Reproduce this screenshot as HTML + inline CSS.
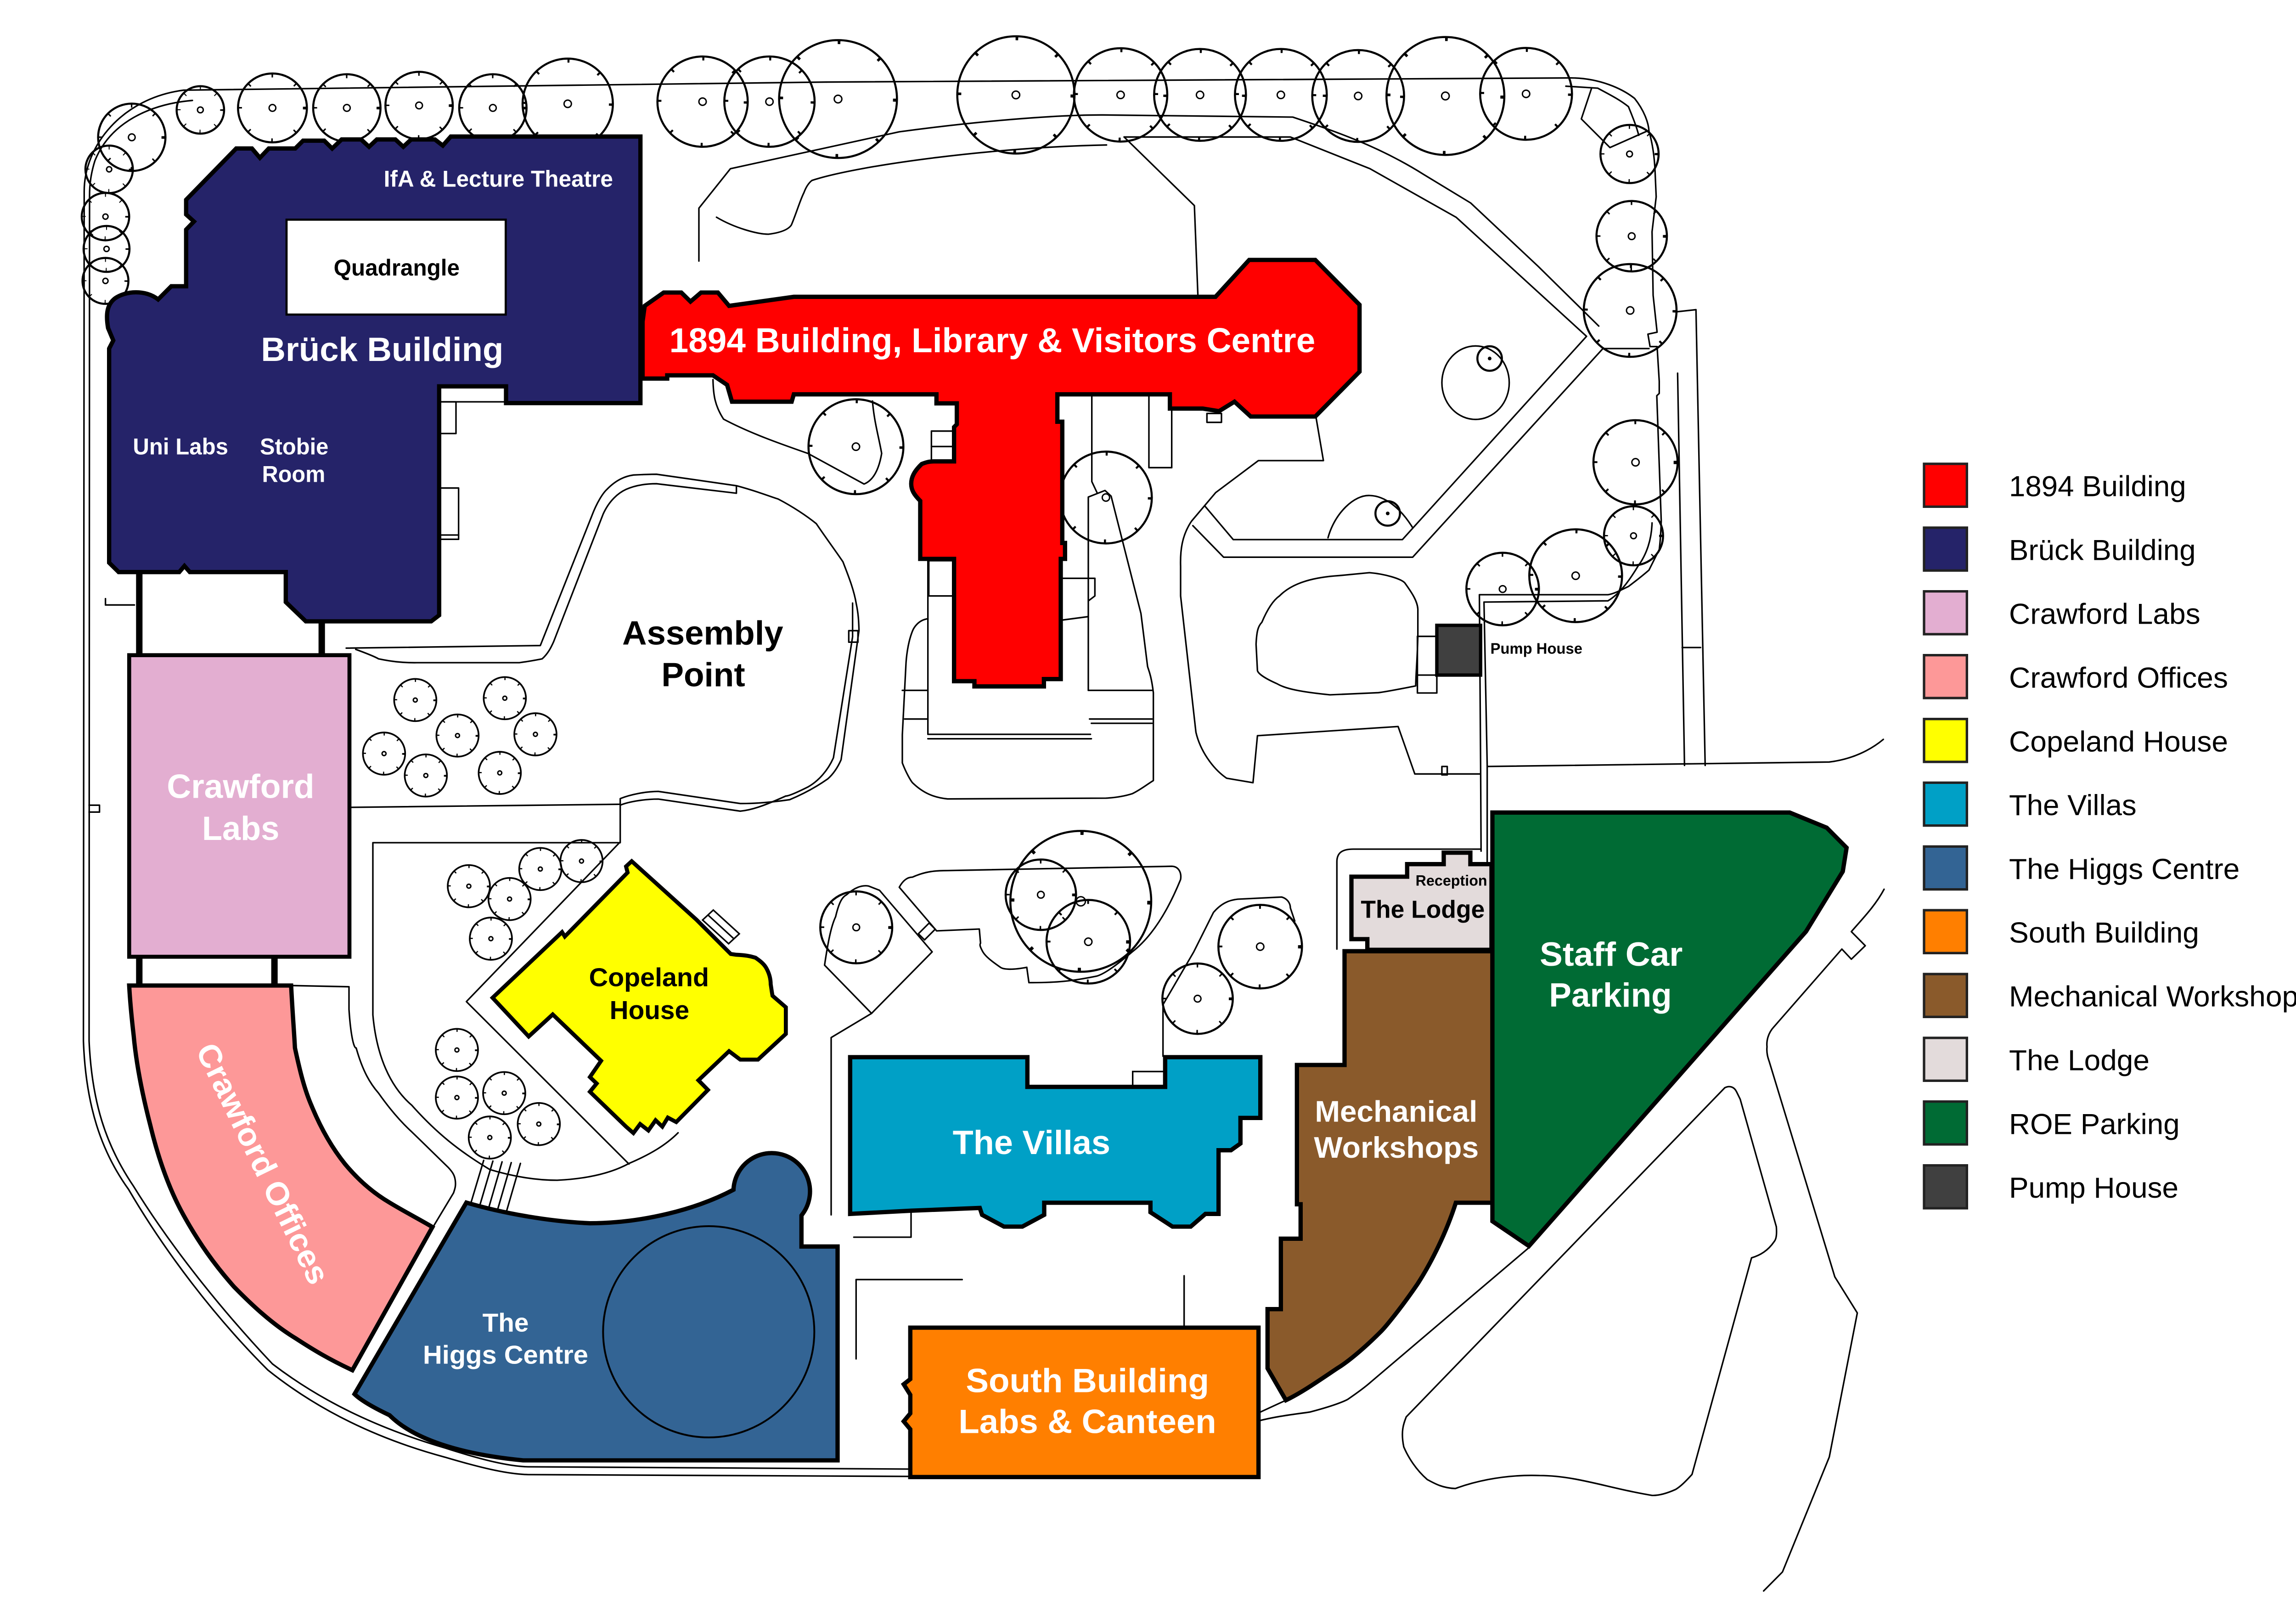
<!DOCTYPE html>
<html><head><meta charset="utf-8">
<style>
html,body{margin:0;padding:0;background:#fff;overflow:hidden}
svg{display:block}
.l{fill:none;stroke:#000;stroke-width:1.0;stroke-linejoin:round;stroke-linecap:round}
.b{stroke:#000;stroke-width:2.8;stroke-linejoin:miter}
.t{fill:none;stroke:#000;stroke-width:1.35}
.tk{fill:none;stroke:#000;stroke-width:2.6;stroke-dasharray:0.6 9.4}
.s{fill:none;stroke:#000;stroke-width:1.1}
.sk{fill:none;stroke:#000;stroke-width:2;stroke-dasharray:0.8 9.2}
.c{fill:#fff;stroke:#000;stroke-width:0.9}
text{font-family:"Liberation Sans",Arial,sans-serif;font-weight:bold}
.w{fill:#fff}
.k{fill:#000}
.lg{font-weight:normal;font-size:19px;fill:#000}
.sq{stroke:#222;stroke-width:1.6}
</style></head>
<body>
<svg xmlns="http://www.w3.org/2000/svg" width="5200" height="3508" viewBox="0 0 1560 1052.4">
<rect x="0" y="0" width="1560" height="1052.4" fill="#fff"/>

<!-- ===== thin lines: roads & paths ===== -->
<g class="l">
<path d="M540,53.6 L120,58.9 C80,64 55,95 55,125 L54.5,680 C56,722 66,752 84,777 C108,818 140,860 175,895 C210,923 250,941 291,952 C318,960 333,963 345,963.3 L597,964.5"/>
<path d="M125.7,65.6 C98,68 72,80 62,105 C59.5,113 58.5,120 58.5,128 L58.2,680 C60,720 69,748 87.3,775 C112,815 145,856 178,891 C212,917 250,934 291,946 C316,954 333,958 345,958.2 L597,959.7"/>
<path d="M58.2,526 L65,526 L65,530.5 L58.2,530.5"/>
<path d="M540,53.6 L1026.4,50.9 C1045,51 1060,58 1067.9,64.3 C1074,72 1077,80 1077.3,85.7 C1080,95 1081,105 1081.3,112.5 L1082,128.6 L1079.3,151.4 L1080,192.9 L1082.6,217 L1076.6,218.3 L1078,226.4 L1082.6,226.4 L1084,249.1 L1084,257 L1082.4,258.5 L1085.3,340.2 C1085,350 1084.5,355 1084,359 C1081,365 1079,369 1077.3,372.4 C1072,377 1068,380 1063.9,383.1 C1058,386 1054,388 1050.5,388.5 L966.5,388.5 L967.3,500 L967.6,556"/>
<path d="M1023,56.3 L1043.8,57.6 C1052,62 1058,65 1063.9,69.7 C1066,75 1069,82 1070.6,88.4"/>
<path d="M1079.3,341.6 C1079,352 1076,362 1070,370 C1064,380 1058,388 1050.5,392.5 L969.5,393.3 L971.6,500 L971.6,564"/>
<path d="M1039.8,57.6 L1033.1,77.7 L1051.8,96.4 L1075.9,85.7"/>
<path d="M1096,243.8 L1100.5,500"/>
<path d="M1096,203.6 L1108,202.3 L1114,500"/>
<path d="M1099,423 L1111,423"/>
<path d="M971.6,500.7 L1195,497.8 C1210,496 1222,490 1230.4,483"/>
<path d="M456.6,170.5 L456.6,136 L477.2,110.2 L587.5,86.1 C640,79 690,75 720.6,75.1 L844.6,76.5 C870,85 900,95 930,113.9 L960.8,132.6 L1005,174.1 L1044.5,213"/>
<path d="M734.4,89.5 L843,89.5 L895,110.2 L951.4,142 L1036.5,219.7 L916.2,352.5 L805.7,352.5 L787,330.4"/>
<path d="M1077.3,227.7 L1047.2,227.7 L922.9,364 L799.4,364 L779.3,343.4"/>
<path d="M468.1,141.9 C480,149 495,153 502,153 C510,152 515,150 517,147 C520,140 523,130 525.2,125.9 C527,121 529,119 530.4,117.9 C560,108 650,96 722.9,94.7"/>
<path d="M734.4,89.5 L780.3,134.3 L782.6,193"/>
<path d="M465.8,248 C466,258 467,265 472.7,273.8 C490,283 510,290 527.8,296.2 L564.5,316.2 C570,314 574,308 576,296.2 C574,285 571,275 570,262"/>
<rect x="608.5" y="281.6" width="14.9" height="19.3"/>
<path d="M608.5,291.7 L623.4,291.7"/>
<rect x="606.8" y="366.3" width="16" height="23"/>
<path d="M606.2,366.3 L606.2,479.7 L712.4,479.7"/>
<path d="M606.2,482.6 L713,482.6"/>
<path d="M606.2,404.2 C600,405 597,410 596.1,412.3 C593,420 592,430 591.8,435.2 L589.5,480 L589.5,498.4 C592,505 595,510 596.1,511.3 C603,518 610,521 619.1,521.9 L722.5,521.4 C730,521 735,520 739.7,518.5 C745,516 750,512 753.5,509.9 L753.5,452.5 C752,440 750,437 749.7,435.2 L745.4,400.8 L725.9,324.1 L721.9,320.4 L711,324.7 L711,451 L752.6,451"/>
<path d="M589.5,451 L606,451 M591,469.7 L606,469.7 M711.8,469.7 L752.6,469.7 M713,472.5 L752.6,472.5"/>
<path d="M713.3,257.8 L713.3,314.6 L716.7,321.8"/>
<rect x="750.6" y="257.8" width="14.9" height="47.7"/>
<path d="M693.7,377.8 L715.3,377.8 L715.3,389.3 L711.5,392.2"/>
<path d="M693.7,405.1 L711,402.8"/>
<rect x="788.5" y="270.1" width="9.5" height="5.8"/>
<path d="M859.7,272.2 L864.6,300.9 L822.1,300.9 L794.2,321.8 L778.4,340.5 C772,350 771,360 771.3,370 L771.3,389.3 L781.3,478.3 C784,490 792,502 801.4,508.4 L818.6,511.3 L821.5,480.6 L913.4,474.6 L924.3,505.6 L967,505.6"/>
<path d="M942,500.7 L945.5,500.7 L945.5,506.2 L942,506.2 Z"/>
<path d="M835.9,389.3 C845,380 860,377 875,376 L894.7,374.1 C905,375 915,378 917.7,380.7 C923,388 926,393 926.3,397.9 L926.3,415.1 C926,430 925,440 924.9,448.1 C915,450 905,452 900.5,452.5 L868.9,453.9 C850,452 840,450 834.4,446.7 C826,443 822,440 821.5,438.1 L820.6,420.9 C821,412 822,409 824.4,406.5 C828,398 832,392 835.9,389.3 Z"/>
<rect x="926" y="415.7" width="12.7" height="37"/>
<path d="M926,441 L938.7,441"/>
<ellipse cx="964" cy="250" rx="22" ry="24"/>
<path d="M867.6,351.3 C872,335 885,323 895,323.7 C905,324 915,332 922.7,344.4"/>
<rect x="286.9" y="252.4" width="43.7" height="10.1"/>
<rect x="286.9" y="262.5" width="11" height="20.7"/>
<rect x="286.9" y="318.8" width="12.7" height="33.5"/>
<path d="M286.9,349.5 L299.6,349.5"/>
<path d="M68.9,391.1 L68.9,395.2 L87.8,395.2"/>
<path d="M226.2,423.4 L353,421.7 L386.6,337.1 C390,328 394,322 396.5,319.7 C403,313 409,311 413.9,310.3 C420,310 425,309.8 428.9,309.8 L481.1,317.3 C495,321 502,324 508.4,326 C518,331 527,337 533.3,342.1 C540,352 546,360 550.7,367 C555,378 558,386 559.4,394.4 C561,402 561,407 561.2,411.8 L549.5,496.3 C547,502 544,506 540.8,508.8 C532,515 524,519 515.9,522.4 C505,524 495,525 483.6,524.9 L430.1,517 C422,517 412,519 405.2,521.7 L405.2,550.5 L243.6,550.5 L243.6,663 C246,690 255,710 269,722 C285,740 300,752 320,764 C340,770 355,771 364,771 C385,770 400,766 411,760 C425,754 435,748 443,740"/>
<path d="M232.4,424.2 C240,427 245,429 247.3,430.4 C255,432 262,433 272.2,432.9 L339.3,432.9 C346,432 351,431 354.2,430.4 C358,427 360,423 361.7,419.2 L394,335.9 C398,327 404,322 409,319.7 C415,317 422,316 428.9,316 L481.1,322.2 L481.1,317.3"/>
<path d="M557,394 L557,416 L544.5,495 C541,503 535,510 528,514 C520,518 515,520 513.4,520 C500,526 492,529 483.6,529.9 L430.1,522 C420,522 410,524 405.2,526"/>
<rect x="554.5" y="412" width="6" height="7.5"/>
<path d="M229.4,527.4 L405.2,525.4"/>
<path d="M404.7,550.5 L304.7,654.3 L410.9,760.4"/>
<path d="M190.2,643.8 L228,644.6 L228,659.4 C229,675 231,685 232.7,684.6 C237,700 242,708 247.3,714.1 C255,725 262,733 269,739.4 C280,750 288,758 292.7,762.5 C296,766 297,768 297.4,770.9 C298,775 297,777 296.3,779.3 L283.6,800.4"/>
<path d="M316,758 L307,788 M322,758.5 L313,789 M328,759 L319,790 M334,759.5 L325,790.5 M340,760 L331,791"/>
<path d="M538.7,630.5 C541,615 543,605 545.9,598.9 C548,590 550,586 553.1,584.5 C558,580 563,578 567.4,578.8 L574.6,581.6 L609,621.8 L569.4,662 Z"/>
<path d="M569.4,662 L543,677.8 L543,793.6"/>
<path d="M587.5,579.6 C590,575 593,573 596.1,573 C605,569 612,568.7 619.1,568.7 L765.5,565.9 C770,566 772,570 771.3,574.5 C765,590 755,610 739.7,621.8 C730,630 722,636 716.7,637.6 C700,641 690,642 672.2,641.9 L670.8,631.9 C660,634 655,633 653.6,631.9 C648,628 644,625 642.1,621.8 C640,618 640,617 640.6,616.1 L639.8,606.9 L611.9,608.1 Z"/>
<path d="M600,610 L604,614 L611,607 L607,603 Z"/>
<path d="M759.8,690 L759.8,656.3 L779.9,621.8 L792.8,596 C798,590 803,588 808.6,587.4 L837.3,586 C841,587 843,590 843,593.1 L845.9,601.7"/>
<path d="M557.8,808.2 L595.2,808.2 L595.2,790.9"/>
<path d="M628.6,835.9 L559.3,835.9 L559.3,887.7"/>
<path d="M773.6,833.4 L773.6,866.3"/>
<path d="M873.4,620 L873.4,563 C873.4,557 877,554.7 884,554.7 L967,554.7"/>
<path d="M822.2,923 L839.1,915.2"/>
<path d="M822.2,928.2 C835,925 845,924 855.9,922.4 C865,920 875,917 880.4,914.2 C888,909 892,906 895.7,902.7 L998.3,815.5"/>
<path d="M1230.9,580.9 C1225,592 1216,601 1209.5,608.6 L1218.6,617.8 L1209.5,626.6 L1203.3,620 L1159,670.7 C1155,675 1154,680 1154.4,683.8 C1154,688 1155,691 1155.9,693.6 L1198.7,834.1 L1213.4,857.7 L1195.1,951.8 L1164.5,1026.9 L1152.2,1039.3"/>
<path d="M1126.8,710.6 C1130,709 1133,710 1134.5,713.2 L1136.9,718.1 L1160.5,801.4 C1161,808 1160,810 1159,811.2 C1155,817 1150,820 1144.3,821.7 L1105.4,963.2 C1101,968 1098,971 1094.7,973 C1088,976 1083,977 1079.4,976.9 C1050,972 1030,964 1005.9,963.9 C980,963 960,969 950.8,972.4 C942,972 937,969 932.4,966.5 C925,960 920,952 917.1,945.2 C915,935 917,930 918.7,925.6 Z"/>
</g>

<!-- ===== trees ===== -->
<g>
<circle cx="86.1" cy="89.7" r="22" class="t"/><circle cx="86.1" cy="89.7" r="20.7" class="tk" pathLength="80"/><circle cx="86.1" cy="89.7" r="2.2" class="c"/>
<circle cx="130.9" cy="71.8" r="15.5" class="t"/><circle cx="130.9" cy="71.8" r="14.2" class="tk" pathLength="80"/><circle cx="130.9" cy="71.8" r="1.9" class="c"/>
<circle cx="178" cy="70.5" r="22.5" class="t"/><circle cx="178" cy="70.5" r="21.2" class="tk" pathLength="80"/><circle cx="178" cy="70.5" r="2.2" class="c"/>
<circle cx="226.6" cy="70.5" r="22" class="t"/><circle cx="226.6" cy="70.5" r="20.7" class="tk" pathLength="80"/><circle cx="226.6" cy="70.5" r="2.2" class="c"/>
<circle cx="273.8" cy="68.9" r="22" class="t"/><circle cx="273.8" cy="68.9" r="20.7" class="tk" pathLength="80"/><circle cx="273.8" cy="68.9" r="2.2" class="c"/>
<circle cx="322" cy="70.5" r="22" class="t"/><circle cx="322" cy="70.5" r="20.7" class="tk" pathLength="80"/><circle cx="322" cy="70.5" r="2.2" class="c"/>
<circle cx="370.9" cy="67.8" r="29.5" class="t"/><circle cx="370.9" cy="67.8" r="28.2" class="tk" pathLength="80"/><circle cx="370.9" cy="67.8" r="2.4" class="c"/>
<circle cx="459" cy="66.4" r="29.5" class="t"/><circle cx="459" cy="66.4" r="28.2" class="tk" pathLength="80"/><circle cx="459" cy="66.4" r="2.4" class="c"/>
<circle cx="502.7" cy="66.4" r="29.5" class="t"/><circle cx="502.7" cy="66.4" r="28.2" class="tk" pathLength="80"/><circle cx="502.7" cy="66.4" r="2.4" class="c"/>
<circle cx="547.5" cy="64.7" r="38.5" class="t"/><circle cx="547.5" cy="64.7" r="37.2" class="tk" pathLength="80"/><circle cx="547.5" cy="64.7" r="2.5" class="c"/>
<circle cx="663.7" cy="62" r="38.3" class="t"/><circle cx="663.7" cy="62" r="37" class="tk" pathLength="80"/><circle cx="663.7" cy="62" r="2.5" class="c"/>
<circle cx="732.1" cy="62" r="30.5" class="t"/><circle cx="732.1" cy="62" r="29.2" class="tk" pathLength="80"/><circle cx="732.1" cy="62" r="2.4" class="c"/>
<circle cx="784" cy="62" r="30" class="t"/><circle cx="784" cy="62" r="28.7" class="tk" pathLength="80"/><circle cx="784" cy="62" r="2.4" class="c"/>
<circle cx="836.8" cy="62" r="30" class="t"/><circle cx="836.8" cy="62" r="28.7" class="tk" pathLength="80"/><circle cx="836.8" cy="62" r="2.4" class="c"/>
<circle cx="887.3" cy="62.7" r="30" class="t"/><circle cx="887.3" cy="62.7" r="28.7" class="tk" pathLength="80"/><circle cx="887.3" cy="62.7" r="2.4" class="c"/>
<circle cx="944.3" cy="62.7" r="38.5" class="t"/><circle cx="944.3" cy="62.7" r="37.2" class="tk" pathLength="80"/><circle cx="944.3" cy="62.7" r="2.5" class="c"/>
<circle cx="997" cy="61.3" r="30" class="t"/><circle cx="997" cy="61.3" r="28.7" class="tk" pathLength="80"/><circle cx="997" cy="61.3" r="2.4" class="c"/>
<circle cx="71.3" cy="110.6" r="15.5" class="t"/><circle cx="71.3" cy="110.6" r="14.2" class="tk" pathLength="80"/><circle cx="71.3" cy="110.6" r="1.7" class="c"/>
<circle cx="68.9" cy="141.5" r="15.5" class="t"/><circle cx="68.9" cy="141.5" r="14.2" class="tk" pathLength="80"/><circle cx="68.9" cy="141.5" r="1.7" class="c"/>
<circle cx="69.6" cy="162.6" r="15" class="t"/><circle cx="69.6" cy="162.6" r="13.7" class="tk" pathLength="80"/><circle cx="69.6" cy="162.6" r="1.7" class="c"/>
<circle cx="68.9" cy="183.5" r="15" class="t"/><circle cx="68.9" cy="183.5" r="13.7" class="tk" pathLength="80"/><circle cx="68.9" cy="183.5" r="1.7" class="c"/>
<circle cx="1064.6" cy="100.6" r="19" class="t"/><circle cx="1064.6" cy="100.6" r="17.7" class="tk" pathLength="80"/><circle cx="1064.6" cy="100.6" r="1.9" class="c"/>
<circle cx="1066" cy="154.3" r="23" class="t"/><circle cx="1066" cy="154.3" r="21.7" class="tk" pathLength="80"/><circle cx="1066" cy="154.3" r="2.2" class="c"/>
<circle cx="1065" cy="202.8" r="30.3" class="t"/><circle cx="1065" cy="202.8" r="29" class="tk" pathLength="80"/><circle cx="1065" cy="202.8" r="2.4" class="c"/>
<circle cx="1068.5" cy="302" r="27.5" class="t"/><circle cx="1068.5" cy="302" r="26.2" class="tk" pathLength="80"/><circle cx="1068.5" cy="302" r="2.4" class="c"/>
<circle cx="1067.2" cy="350" r="19.3" class="t"/><circle cx="1067.2" cy="350" r="18" class="tk" pathLength="80"/><circle cx="1067.2" cy="350" r="1.9" class="c"/>
<circle cx="1029.4" cy="376.1" r="30.3" class="t"/><circle cx="1029.4" cy="376.1" r="29" class="tk" pathLength="80"/><circle cx="1029.4" cy="376.1" r="2.4" class="c"/>
<circle cx="981.7" cy="384.8" r="23.7" class="t"/><circle cx="981.7" cy="384.8" r="22.4" class="tk" pathLength="80"/><circle cx="981.7" cy="384.8" r="2.2" class="c"/>
<circle cx="559.2" cy="291.8" r="31" class="t"/><circle cx="559.2" cy="291.8" r="29.7" class="tk" pathLength="80"/><circle cx="559.2" cy="291.8" r="2.4" class="c"/>
<circle cx="722.5" cy="325" r="30" class="t"/><circle cx="722.5" cy="325" r="28.7" class="tk" pathLength="80"/><circle cx="722.5" cy="325" r="2.4" class="c"/>
<circle cx="559.4" cy="605.8" r="23.5" class="t"/><circle cx="559.4" cy="605.8" r="22.2" class="tk" pathLength="80"/><circle cx="559.4" cy="605.8" r="2.2" class="c"/>
<circle cx="706.1" cy="588.8" r="46" class="t"/><circle cx="706.1" cy="588.8" r="44.7" class="tk" pathLength="80"/><circle cx="706.1" cy="588.8" r="3" class="c"/>
<circle cx="680" cy="584.5" r="23" class="t"/><circle cx="680" cy="584.5" r="21.7" class="tk" pathLength="80"/><circle cx="680" cy="584.5" r="2.2" class="c"/>
<circle cx="711" cy="615.2" r="27.3" class="t"/><circle cx="711" cy="615.2" r="26" class="tk" pathLength="80"/><circle cx="711" cy="615.2" r="2.4" class="c"/>
<circle cx="823.3" cy="618.4" r="27.3" class="t"/><circle cx="823.3" cy="618.4" r="26" class="tk" pathLength="80"/><circle cx="823.3" cy="618.4" r="2.4" class="c"/>
<circle cx="782.4" cy="652.4" r="23" class="t"/><circle cx="782.4" cy="652.4" r="21.7" class="tk" pathLength="80"/><circle cx="782.4" cy="652.4" r="2.2" class="c"/>
<circle cx="973.2" cy="234.2" r="8" class="t"/><circle cx="973.2" cy="234.2" r="1.2" fill="#000"/>
<circle cx="906.6" cy="335.4" r="8" class="t"/><circle cx="906.6" cy="335.4" r="1.2" fill="#000"/>
<circle cx="271.3" cy="457.3" r="13.8" class="s"/><circle cx="271.3" cy="457.3" r="12.8" class="sk" pathLength="80"/><circle cx="271.3" cy="457.3" r="1.3" class="c"/>
<circle cx="329.8" cy="456.1" r="13.8" class="s"/><circle cx="329.8" cy="456.1" r="12.8" class="sk" pathLength="80"/><circle cx="329.8" cy="456.1" r="1.3" class="c"/>
<circle cx="298.9" cy="480.5" r="13.8" class="s"/><circle cx="298.9" cy="480.5" r="12.8" class="sk" pathLength="80"/><circle cx="298.9" cy="480.5" r="1.3" class="c"/>
<circle cx="349.8" cy="479.7" r="13.8" class="s"/><circle cx="349.8" cy="479.7" r="12.8" class="sk" pathLength="80"/><circle cx="349.8" cy="479.7" r="1.3" class="c"/>
<circle cx="250.9" cy="492.3" r="13.8" class="s"/><circle cx="250.9" cy="492.3" r="12.8" class="sk" pathLength="80"/><circle cx="250.9" cy="492.3" r="1.3" class="c"/>
<circle cx="278.2" cy="506.6" r="13.8" class="s"/><circle cx="278.2" cy="506.6" r="12.8" class="sk" pathLength="80"/><circle cx="278.2" cy="506.6" r="1.3" class="c"/>
<circle cx="326.5" cy="504.9" r="13.8" class="s"/><circle cx="326.5" cy="504.9" r="12.8" class="sk" pathLength="80"/><circle cx="326.5" cy="504.9" r="1.3" class="c"/>
<circle cx="306.3" cy="578.9" r="13.8" class="s"/><circle cx="306.3" cy="578.9" r="12.8" class="sk" pathLength="80"/><circle cx="306.3" cy="578.9" r="1.3" class="c"/>
<circle cx="353" cy="567.7" r="13.8" class="s"/><circle cx="353" cy="567.7" r="12.8" class="sk" pathLength="80"/><circle cx="353" cy="567.7" r="1.3" class="c"/>
<circle cx="379.9" cy="562.5" r="13.8" class="s"/><circle cx="379.9" cy="562.5" r="12.8" class="sk" pathLength="80"/><circle cx="379.9" cy="562.5" r="1.3" class="c"/>
<circle cx="332.9" cy="587.3" r="13.8" class="s"/><circle cx="332.9" cy="587.3" r="12.8" class="sk" pathLength="80"/><circle cx="332.9" cy="587.3" r="1.3" class="c"/>
<circle cx="320.7" cy="613.2" r="13.8" class="s"/><circle cx="320.7" cy="613.2" r="12.8" class="sk" pathLength="80"/><circle cx="320.7" cy="613.2" r="1.3" class="c"/>
<circle cx="298.5" cy="685.9" r="13.8" class="s"/><circle cx="298.5" cy="685.9" r="12.8" class="sk" pathLength="80"/><circle cx="298.5" cy="685.9" r="1.3" class="c"/>
<circle cx="298.5" cy="717" r="13.8" class="s"/><circle cx="298.5" cy="717" r="12.8" class="sk" pathLength="80"/><circle cx="298.5" cy="717" r="1.3" class="c"/>
<circle cx="329.4" cy="714.1" r="13.8" class="s"/><circle cx="329.4" cy="714.1" r="12.8" class="sk" pathLength="80"/><circle cx="329.4" cy="714.1" r="1.3" class="c"/>
<circle cx="352" cy="734.3" r="13.8" class="s"/><circle cx="352" cy="734.3" r="12.8" class="sk" pathLength="80"/><circle cx="352" cy="734.3" r="1.3" class="c"/>
<circle cx="320" cy="743.1" r="13.8" class="s"/><circle cx="320" cy="743.1" r="12.8" class="sk" pathLength="80"/><circle cx="320" cy="743.1" r="1.3" class="c"/>
</g>

<!-- ===== buildings ===== -->
<g fill="#000">
<rect x="88.9" y="373" width="4.2" height="56"/>
<rect x="208.1" y="405" width="4.2" height="24"/>
<rect x="88.9" y="624" width="4.2" height="21"/>
<rect x="177.2" y="624" width="4.2" height="21"/>
</g>

<path class="b" fill="#252369" d="M154.3,97 L164.6,97 L169.8,103.1 L175.6,97 L192.9,97 L198,91.9 L211.8,91.9 L217,97 L223.2,91.1 L235.9,91.1 L241.1,95.9 L246.2,91.1 L258.3,91.1 L263.5,95.9 L268.6,91.1 L284.1,91.1 L289.3,95.1 L294.5,89.2 L418.4,89.2 L418.4,263.3 L330.6,263.3 L330.6,252.4 L286.9,252.4 L286.9,401.9 L281.7,405.9 L199.8,405.9 L186.7,393.3 L186.7,373.7 L124,373.7 L120.5,369.7 L117.1,373.7 L77.5,373.7 L71.3,367.6 L71.3,227.7 L74,222.4 L70.6,214.3 C69,205 70,199 75,195 C82,190 95,189 103.3,195.6 L111.9,187 L121.6,187 L121.6,150 L126.7,144.7 L121.6,140.1 L121.6,130.5 Z"/>
<rect x="187.2" y="143.5" width="143.2" height="62" fill="#fff" stroke="#000" stroke-width="1.4"/>

<path class="b" fill="#ff0000" d="M419.8,210.1 L421.2,199.8 L433.6,191.1 L445.1,191.1 L451.1,197 L458,191.1 L469,191.1 L476.3,199.8 L518.6,193.9 L794.1,193.9 L816.1,169.8 L859.3,169.8 L888.2,199.1 L888.2,242.8 L859.3,272.1 L817.1,272.1 L806.5,262.4 L796.4,268.6 L785.8,266.9 L764.3,266.9 L764.3,257.6 L690.8,257.6 L690.8,275.5 L694,275.5 L694,354.7 L695.8,354.7 L695.8,365.1 L693,365.1 L693,443.6 L682,443.6 L682,448.4 L636.6,448.4 L636.6,445 L623.3,445 L623.3,365.1 L601.2,365.1 L601.2,327.2 C597,323 595.3,320 595.3,316 C595.3,312 597,308 602.2,303.1 C605,302 607,301.4 610.4,301.4 L623.3,301.4 L623.3,279 L625.1,277.2 L625.1,263.5 L611.8,263.5 L611.8,257.6 L518.6,257.6 L517.2,262.4 L478.2,262.4 L475,251.4 L465.8,245.2 L435.9,245.2 L435.9,247.3 L419.8,247.3 Z"/>

<rect x="84.4" y="428" width="143.9" height="197" fill="#e3aed1" stroke="#000" stroke-width="2.6"/>

<path class="b" fill="#fd9898" d="M84.4,643.8 L190.2,643.8 C191,660 192,672 192.7,684.6 C196,700 199,712 203.6,722.5 C210,738 217,750 225.4,760.4 C235,772 245,780 254.5,785.6 C265,792 275,797 282.5,801.6 L230.2,895.1 C215,888 205,882 192.7,874 C178,865 165,853 152.7,840.4 C140,826 130,812 120,794 C110,776 103,755 98.2,735.1 C93,715 89,695 87.3,676.2 C86,665 85,655 84.4,643.8 Z"/>

<path class="b" fill="#336494" d="M304.7,785.6 C330,793 360,798 385.4,799.1 C420,799 455,790 479.2,777.2 A25,25 0 1 1 523.6,794 L523.6,814.3 L547.2,814.3 L547.2,954 L341.8,954 C300,950 270,940 254.5,924.5 C245,920 236,915 231.6,910.7 Z"/>
<circle cx="463" cy="870" r="69" fill="none" stroke="#000" stroke-width="1.2"/>

<path fill="#ffff00" stroke="#000" stroke-width="2.6" stroke-linejoin="miter" d="M412.7,562.6 L455,600.8 L477.4,623.2 L481,623.7 C487,624 490,624.5 493.5,625.6 C497,628 499.5,630 501,633.1 C503,637 503.5,640 503.5,643 C504,646 504.2,648 504.7,650.5 L513.4,658 L513.4,675.4 L495.2,692.2 L483.6,692.2 L476.3,686.7 L456.3,705.7 L462.5,712 L441.8,733 L436.3,730.1 L432.7,736 L428.3,731.8 L423.6,738.5 L418.2,734.3 L413.8,740.2 L409,736 L385.4,713.2 L389.8,707.8 L385.4,703.6 L392.7,693 L361.1,662.7 L345.4,677.1 L321.8,651.8 L367.2,608.9 L369,611.8 L410,570 L409,566 Z"/>
<path d="M459,601 L466,594.5 L483,610 L476,616.5 Z M462.5,597.7 L479.5,613.3" fill="#fff" stroke="#000" stroke-width="1"/>

<path class="b" fill="#00a0c6" d="M555.4,690.6 L671.2,690.6 L671.2,710 L761.2,710 L761.2,690.6 L823.4,690.6 L823.4,730.3 L810.4,730.3 L810.4,747 L804.2,751.4 L796.1,751.4 L796.1,793 L787.5,793 L777.9,801.3 L766,801.3 L751.6,791.9 L751.6,785.7 L682.2,785.7 L682.2,793.6 L667.9,801.3 L655.9,801.3 L641.6,793.6 L640.1,789.1 L595.2,790.9 L555.4,793 Z"/>
<path d="M740,710 L740,700 L760,700" fill="none" stroke="#000" stroke-width="1"/>

<path class="b" fill="#8a5a2b" d="M878.4,621.4 L975,621.4 L975,785.7 L951.1,785.7 C945,805 935,825 926.2,838.6 C915,855 905,867 902.3,869.7 C890,882 880,890 873.6,893.9 C860,903 850,910 840.1,914.7 L828.1,893.9 L828.1,855.2 L836.8,855.2 L836.8,809.2 L849.7,809.2 L849.7,786.7 L847.3,786.7 L847.3,695.7 L878.4,695.7 Z"/>

<path class="b" fill="#e3dbdb" d="M882.9,572.7 L919.3,572.7 L919.3,564.5 L943.2,564.5 L943.2,557 L960.6,557 L960.6,564.5 L974.4,564.5 L974.4,620.5 L893.3,620.5 L893.3,613.5 L882.9,613.5 Z"/>

<path class="b" fill="#006b34" d="M975,530.8 L1169.2,530.8 L1193.4,540.7 L1206.4,553.8 L1203.9,569.3 L1179.9,608.5 L998.9,814 L975,797.8 Z"/>

<path class="b" fill="#ff7f00" d="M594.7,867.3 L822.2,867.3 L822.2,964.9 L594.7,964.9 L594.7,933.7 L590.4,928.5 L594.7,923.3 L594.7,911.2 L590.4,904.3 L594.7,900.9 Z"/>

<rect x="938.7" y="408.5" width="28.6" height="32.5" fill="#404040" stroke="#000" stroke-width="2.2"/>

<!-- ===== labels ===== -->
<text class="w" x="250.7" y="121.9" font-size="15" textLength="149.8" lengthAdjust="spacingAndGlyphs">IfA &amp; Lecture Theatre</text>
<text class="k" x="218" y="180" font-size="15" textLength="82.3" lengthAdjust="spacingAndGlyphs">Quadrangle</text>
<text class="w" x="170.5" y="235.8" font-size="22" textLength="158.4" lengthAdjust="spacingAndGlyphs">Brück Building</text>
<text class="w" x="86.8" y="296.8" font-size="15" textLength="62.3" lengthAdjust="spacingAndGlyphs">Uni Labs</text>
<text class="w" x="169.8" y="296.8" font-size="15" textLength="44.8" lengthAdjust="spacingAndGlyphs">Stobie</text>
<text class="w" x="171.2" y="314.8" font-size="15" textLength="41.3" lengthAdjust="spacingAndGlyphs">Room</text>
<text class="w" x="437.3" y="230.1" font-size="22.5" textLength="422" lengthAdjust="spacingAndGlyphs">1894 Building, Library &amp; Visitors Centre</text>
<text class="k" x="406.5" y="421" font-size="22" textLength="105.2" lengthAdjust="spacingAndGlyphs">Assembly</text>
<text class="k" x="432.1" y="448.3" font-size="22" textLength="54.7" lengthAdjust="spacingAndGlyphs">Point</text>
<text class="w" x="109" y="521.3" font-size="22" textLength="96.4" lengthAdjust="spacingAndGlyphs">Crawford</text>
<text class="w" x="132" y="548.7" font-size="22" textLength="50.5" lengthAdjust="spacingAndGlyphs">Labs</text>
<text class="w" transform="translate(172,760) rotate(64)" x="0" y="7.5" font-size="21" text-anchor="middle" textLength="172" lengthAdjust="spacingAndGlyphs">Crawford Offices</text>
<text class="k" x="384.8" y="644.3" font-size="17" textLength="78.4" lengthAdjust="spacingAndGlyphs">Copeland</text>
<text class="k" x="398.3" y="665.7" font-size="17" textLength="52" lengthAdjust="spacingAndGlyphs">House</text>
<text class="w" x="330.3" y="869.8" font-size="17" text-anchor="middle">The</text>
<text class="w" x="276.3" y="890.9" font-size="17" textLength="108" lengthAdjust="spacingAndGlyphs">Higgs Centre</text>
<text class="w" x="622.4" y="753.9" font-size="22" textLength="103" lengthAdjust="spacingAndGlyphs">The Villas</text>
<text class="w" x="859" y="732.8" font-size="19.5" textLength="106.2" lengthAdjust="spacingAndGlyphs">Mechanical</text>
<text class="w" x="858.4" y="756.3" font-size="19.5" textLength="107.7" lengthAdjust="spacingAndGlyphs">Workshops</text>
<text class="w" x="1005.9" y="630.9" font-size="22" textLength="93.4" lengthAdjust="spacingAndGlyphs">Staff Car</text>
<text class="w" x="1012" y="657.6" font-size="22" textLength="80.2" lengthAdjust="spacingAndGlyphs">Parking</text>
<text class="w" x="631" y="909.5" font-size="22" textLength="158.9" lengthAdjust="spacingAndGlyphs">South Building</text>
<text class="w" x="626.2" y="936.2" font-size="22" textLength="168.4" lengthAdjust="spacingAndGlyphs">Labs &amp; Canteen</text>
<text class="k" x="924.8" y="578.6" font-size="9.7" textLength="46.8" lengthAdjust="spacingAndGlyphs">Reception</text>
<text class="k" x="889" y="599.5" font-size="16" textLength="81" lengthAdjust="spacingAndGlyphs">The Lodge</text>
<text class="k" x="973.7" y="427.1" font-size="10" textLength="60.1" lengthAdjust="spacingAndGlyphs">Pump House</text>

<!-- ===== legend ===== -->
<g>
<rect class="sq" x="1257" y="303" width="28" height="28" fill="#ff0000"/>
<rect class="sq" x="1257" y="344.7" width="28" height="28" fill="#252369"/>
<rect class="sq" x="1257" y="386.3" width="28" height="28" fill="#e3aed1"/>
<rect class="sq" x="1257" y="428" width="28" height="28" fill="#fd9898"/>
<rect class="sq" x="1257" y="469.7" width="28" height="28" fill="#ffff00"/>
<rect class="sq" x="1257" y="511.3" width="28" height="28" fill="#00a0c6"/>
<rect class="sq" x="1257" y="553" width="28" height="28" fill="#336494"/>
<rect class="sq" x="1257" y="594.6" width="28" height="28" fill="#ff7f00"/>
<rect class="sq" x="1257" y="636.3" width="28" height="28" fill="#8a5a2b"/>
<rect class="sq" x="1257" y="678" width="28" height="28" fill="#e3dbdb"/>
<rect class="sq" x="1257" y="719.6" width="28" height="28" fill="#006b34"/>
<rect class="sq" x="1257" y="761.3" width="28" height="28" fill="#404040"/>
</g>
<g>
<text class="lg" x="1312.5" y="324.2" textLength="115.7" lengthAdjust="spacingAndGlyphs">1894 Building</text>
<text class="lg" x="1312.5" y="365.9" textLength="122" lengthAdjust="spacingAndGlyphs">Brück Building</text>
<text class="lg" x="1312.5" y="407.5" textLength="125" lengthAdjust="spacingAndGlyphs">Crawford Labs</text>
<text class="lg" x="1312.5" y="449.2" textLength="143.1" lengthAdjust="spacingAndGlyphs">Crawford Offices</text>
<text class="lg" x="1312.5" y="490.9" textLength="143.1" lengthAdjust="spacingAndGlyphs">Copeland House</text>
<text class="lg" x="1312.5" y="532.5" textLength="83.3" lengthAdjust="spacingAndGlyphs">The Villas</text>
<text class="lg" x="1312.5" y="574.2" textLength="150.7" lengthAdjust="spacingAndGlyphs">The Higgs Centre</text>
<text class="lg" x="1312.5" y="615.8" textLength="124.2" lengthAdjust="spacingAndGlyphs">South Building</text>
<text class="lg" x="1312.5" y="657.5" textLength="198.7" lengthAdjust="spacingAndGlyphs">Mechanical Workshops</text>
<text class="lg" x="1312.5" y="699.1" textLength="91.8" lengthAdjust="spacingAndGlyphs">The Lodge</text>
<text class="lg" x="1312.5" y="740.8" textLength="111.5" lengthAdjust="spacingAndGlyphs">ROE Parking</text>
<text class="lg" x="1312.5" y="782.4" textLength="110.7" lengthAdjust="spacingAndGlyphs">Pump House</text>
</g>
</svg>
</body></html>
